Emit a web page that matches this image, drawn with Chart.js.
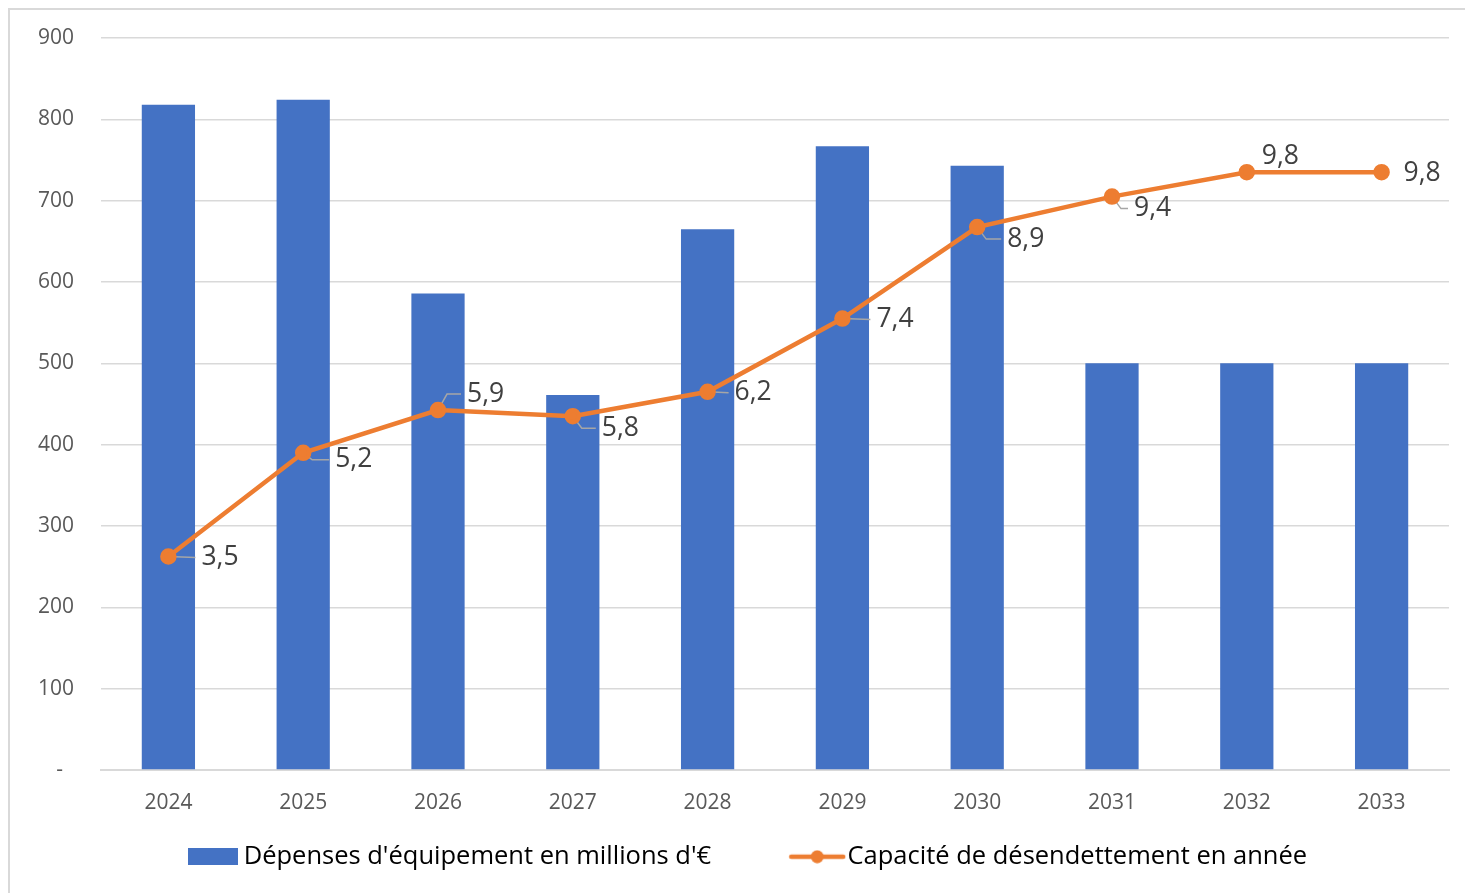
<!DOCTYPE html>
<html>
<head>
<meta charset="utf-8">
<script src="https://cdn.jsdelivr.net/npm/chart.js@4"></script>
<style>
  body { margin: 0; background: #fff; }
  #frame {
    position: absolute; left: 8px; top: 8px;
    width: 1457px; height: 885px;
    border-left: 2px solid #d9d9d9; border-top: 2px solid #d9d9d9;
  }
  #chart { display: block; }
</style>
</head>
<body>
<div id="frame"><canvas id="chart" width="1455" height="883"></canvas></div>
<script>
var years = ['2024', '2025', '2026', '2027', '2028', '2029', '2030', '2031', '2032', '2033'];
var depenses = [818, 824, 586, 461, 665, 767, 743, 500, 500, 500];
var capacite = [3.5, 5.2, 5.9, 5.8, 6.2, 7.4, 8.9, 9.4, 9.8, 9.8];
var yTicks = [0, 100, 200, 300, 400, 500, 600, 700, 800, 900];

// label placement (text offset from the point, leader line on/off)
var labelPos = [
  [33, 1, true], [32, 7, true], [29, -16, true], [29, 12, true], [27, 1, true],
  [34, 1, true], [30, 12, true], [22, 12, true], [15, -16, false], [22, 1, false]
];

var FONT = "'Open Sans', 'DejaVu Sans', sans-serif";
var BLUE = '#4472C4';
var ORANGE = '#ED7D31';

function barSwatch() {
  var c = document.createElement('canvas');
  c.width = 50; c.height = 17;
  var g = c.getContext('2d');
  g.fillStyle = BLUE;
  g.fillRect(0, 0, 50, 17);
  return c;
}
function lineSwatch() {
  var c = document.createElement('canvas');
  c.width = 58; c.height = 14;
  var g = c.getContext('2d');
  g.strokeStyle = ORANGE; g.lineWidth = 4.5; g.lineCap = 'round';
  g.beginPath(); g.moveTo(3, 7); g.lineTo(55, 7); g.stroke();
  g.fillStyle = ORANGE;
  g.beginPath(); g.arc(29, 7, 6.5, 0, Math.PI * 2); g.fill();
  return c;
}

function fmt(v) { return v.toFixed(1).replace('.', ','); }

var labelsPlugin = {
  id: 'pointLabels',
  afterLayout: function(chart) {
    // nudge the legend row to the right, like the original
    chart.legend.left += 22;
    chart.legend.right += 22;
  },
  beforeDatasetDraw: function(chart, args) {
    if (args.index !== 1) return;
    var ctx = chart.ctx;
    var meta = chart.getDatasetMeta(1);
    ctx.save();
    ctx.strokeStyle = '#a6a6a6';
    ctx.lineWidth = 1.5;
    meta.data.forEach(function(pt, i) {
      var p = labelPos[i];
      if (!p[2]) return;
      var tx = pt.x + p[0], ty = pt.y + p[1];
      ctx.beginPath();
      ctx.moveTo(pt.x, pt.y);
      if (Math.abs(p[1]) > 4) ctx.lineTo(pt.x + 9, ty);
      ctx.lineTo(tx - 6, ty);
      ctx.stroke();
    });
    ctx.restore();
  },
  afterDatasetsDraw: function(chart) {
    var ctx = chart.ctx;
    var meta = chart.getDatasetMeta(1);
    ctx.save();
    ctx.font = '26.5px ' + FONT;
    ctx.fillStyle = '#404040';
    ctx.textAlign = 'left';
    ctx.textBaseline = 'middle';
    meta.data.forEach(function(pt, i) {
      var p = labelPos[i];
      ctx.fillText(fmt(capacite[i]), pt.x + p[0], pt.y + p[1]);
    });
    ctx.restore();
  }
};

var ctx = document.getElementById('chart').getContext('2d');
var swatches = [barSwatch(), lineSwatch()];

new Chart(ctx, {
  data: {
    labels: years,
    datasets: [{
      type: 'bar',
      label: "Dépenses d'équipement en millions d'€",
      data: depenses,
      backgroundColor: BLUE,
      barPercentage: 0.395,
      categoryPercentage: 1,
      yAxisID: 'y',
      order: 1
    }, {
      type: 'line',
      label: 'Capacité de désendettement en année',
      data: capacite,
      borderColor: ORANGE,
      backgroundColor: ORANGE,
      borderWidth: 4.5,
      tension: 0,
      pointRadius: 6,
      pointBackgroundColor: ORANGE,
      pointBorderColor: ORANGE,
      yAxisID: 'y1',
      order: 0
    }]
  },
  options: {
    responsive: false,
    animation: false,
    layout: { padding: { left: 0, right: 16, top: 28, bottom: 13.5 } },
    scales: {
      x: {
        grid: { display: false, drawTicks: false },
        border: { color: '#d9d9d9', width: 2 },
        ticks: { color: '#595959', font: { family: FONT, size: 21 }, padding: 20 },
        afterFit: function(s) { s.height = 45; }
      },
      y: {
        min: 0, max: 900,
        afterBuildTicks: function(s) { s.ticks = yTicks.map(function(v) { return { value: v }; }); },
        grid: { color: '#d9d9d9', lineWidth: 1.5, drawTicks: false },
        border: { display: false },
        ticks: {
          color: '#595959', font: { family: FONT, size: 21 }, padding: 27,
          callback: function(v) { return v === 0 ? '-  ' : v; }
        },
        afterFit: function(s) { s.width = 91; s.paddingTop = 0; }
      },
      y1: { min: 0, max: 12, display: false }
    },
    plugins: {
      tooltip: { enabled: false },
      legend: {
        position: 'bottom',
        labels: {
          font: { family: FONT, size: 25.5 },
          color: '#595959',
          padding: 29,
          usePointStyle: true,
          pointStyleWidth: 35,
          generateLabels: function(chart) {
            return chart.data.datasets.map(function(ds, i) {
              return {
                text: i === 0 ? ds.label + '         ' : ds.label,
                pointStyle: swatches[i],
                fillStyle: ds.backgroundColor,
                strokeStyle: ds.backgroundColor,
                lineWidth: 0,
                hidden: false,
                datasetIndex: i
              };
            });
          }
        }
      }
    }
  },
  plugins: [labelsPlugin]
});
</script>
</body>
</html>
